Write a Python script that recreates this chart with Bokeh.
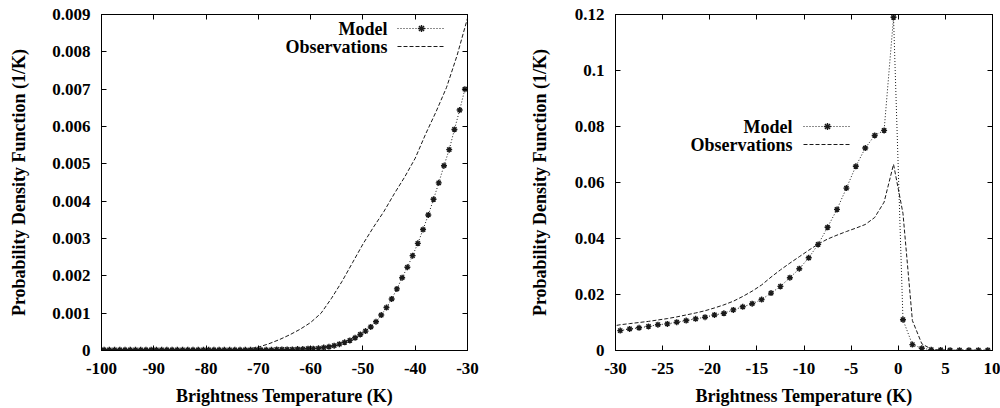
from bokeh.plotting import figure
from bokeh.layouts import row
from bokeh.models import (FixedTicker, LinearAxis, Legend, LegendItem, Label,
                          Range1d, CustomJSTickFormatter)
from bokeh.embed import file_html
from bokeh.resources import INLINE

# ---- Left panel: cold tail of the brightness-temperature distribution ----
left_model_x = [-99.5 + i for i in range(70)]
left_model_pdf = [
    0.00002, 0.00002, 0.00002, 0.00002, 0.00002, 0.00002, 0.00002, 0.00002, 0.00002, 0.00002,
    0.00002, 0.00002, 0.00002, 0.00002, 0.00002, 0.00002, 0.00002, 0.00002, 0.00002, 0.00002,
    0.00002, 0.00002, 0.00002, 0.00002, 0.00002, 0.00002, 0.00002, 0.00002, 0.00002, 0.00002,
    0.00002, 0.00002, 0.00002, 0.00003, 0.00003, 0.00003, 0.00003, 0.00004, 0.00004, 0.00005,
    0.00005, 0.00006, 0.00008, 0.00010, 0.00013, 0.00017, 0.00022, 0.00027, 0.00034, 0.00043,
    0.00052, 0.00063, 0.00077, 0.00095, 0.00115, 0.00138, 0.00165, 0.00195, 0.00223, 0.00254,
    0.00287, 0.00324, 0.00363, 0.00405, 0.00449, 0.00495, 0.00538, 0.00592, 0.00644, 0.00700,
]
left_obs_x = [-100, -98, -96, -94, -92, -90, -88, -86, -84, -82, -80, -78, -76, -74, -72,
              -70, -68, -66, -64, -62, -60, -58, -56, -54, -52, -50, -48, -46, -44, -42,
              -40, -38, -36, -34, -32, -30]
left_obs_pdf = [0, 0, 0, 0, 0, 0, 0, 0, 0, 0, 0, 0, 0, 0.00001, 0.00004,
                0.00009, 0.00018, 0.00029, 0.00042, 0.00057, 0.00075, 0.00100, 0.00140,
                0.00185, 0.00235, 0.00285, 0.00330, 0.00372, 0.00420, 0.00465,
                0.00515, 0.00580, 0.00640, 0.00705, 0.00790, 0.00890]
left_xticks = [-100, -90, -80, -70, -60, -50, -40, -30]
left_yticks = [0, 0.001, 0.002, 0.003, 0.004, 0.005, 0.006, 0.007, 0.008, 0.009]

# ---- Right panel: core of the distribution around 0 K ----
right_model_x = [-29.5 + i for i in range(40)]
right_model_pdf = [
    0.0071, 0.0077, 0.0081, 0.0086, 0.0092, 0.0095, 0.0101, 0.0107, 0.0113, 0.0119,
    0.0127, 0.0133, 0.0145, 0.0156, 0.0167, 0.0182, 0.0205, 0.0229, 0.0260, 0.0292,
    0.0331, 0.0379, 0.0440, 0.0504, 0.0580, 0.0658, 0.0723, 0.0768, 0.0786, 0.1190,
    0.0110, 0.0021, 0.0008, 0.0003, 0.0002, 0.0001, 0.0001, 0.0001, 0.0001, 0.0001,
]
right_obs_x = [-30.5 + i for i in range(41)]
right_obs_pdf = [
    0.0086, 0.0092, 0.0096, 0.0100, 0.0104, 0.0109, 0.0114, 0.0120, 0.0127, 0.0134,
    0.0142, 0.0152, 0.0163, 0.0176, 0.0193, 0.0212, 0.0234, 0.0262, 0.0288, 0.0312,
    0.0335, 0.0358, 0.0380, 0.0398, 0.0412, 0.0425, 0.0437, 0.0450, 0.0475, 0.0530,
    0.0665, 0.0490, 0.0107, 0.0024, 0.0005, 0.0001, 0.0001, 0.0001, 0.0001, 0.0001,
    0.0001,
]
right_xticks = [-30, -25, -20, -15, -10, -5, 0, 5, 10]
right_yticks = [0, 0.02, 0.04, 0.06, 0.08, 0.1, 0.12]

x_title = "Brightness Temperature (K)"
y_title = "Probability Density Function (1/K)"
series_names = ["Model", "Observations"]

FONT = "Liberation Serif, Times New Roman, serif"
TICK_FS = "17px"
TITLE_FS = "18px"
INK = "#1a1a1a"

fmt = CustomJSTickFormatter(code="return String(parseFloat(tick.toFixed(4)));")


def make_panel(xr, yr, xticks, yticks, mx, my, ox, oy, border_left, border_right,
               frame_w, ytitle_standoff, legend_loc, label_x, label_y):
    p = figure(frame_width=frame_w, frame_height=336,
               x_range=Range1d(*xr), y_range=Range1d(*yr),
               output_backend="svg", toolbar_location=None,
               min_border_left=border_left, min_border_right=border_right,
               min_border_top=14, min_border_bottom=58,
               background_fill_color="white", border_fill_color="white")
    p.grid.visible = False
    p.outline_line_color = "black"
    p.outline_line_width = 1

    for ax in (p.xaxis[0], p.yaxis[0]):
        ax.formatter = fmt
        ax.major_tick_in = 5
        ax.major_tick_out = 0
        ax.minor_tick_line_color = None
        ax.axis_line_color = "black"
        ax.major_tick_line_color = "black"
        ax.major_label_text_font = FONT
        ax.major_label_text_font_style = "bold"
        ax.major_label_text_font_size = TICK_FS
        ax.major_label_text_color = "black"
        ax.axis_label_text_font = FONT
        ax.axis_label_text_font_style = "bold"
        ax.axis_label_text_font_size = TITLE_FS
        ax.axis_label_text_color = "black"
    p.xaxis[0].ticker = FixedTicker(ticks=xticks)
    p.yaxis[0].ticker = FixedTicker(ticks=yticks)
    p.xaxis[0].axis_label = x_title
    p.yaxis[0].axis_label = y_title
    p.xaxis[0].major_label_standoff = 12
    p.xaxis[0].axis_label_standoff = 9
    p.yaxis[0].major_label_standoff = 11
    p.yaxis[0].axis_label_standoff = ytitle_standoff

    # mirrored tick marks on the top and right edges (no labels)
    for ticks, side in ((xticks, "above"), (yticks, "right")):
        mirror = LinearAxis(ticker=FixedTicker(ticks=ticks), major_tick_in=5,
                            major_tick_out=0, minor_tick_line_color=None,
                            major_label_text_font_size="1px",
                            major_label_text_color=None, major_label_standoff=0,
                            axis_line_color="black", major_tick_line_color="black")
        p.add_layout(mirror, side)

    m_line = p.line(mx, my, line_color=INK, line_width=1, line_dash="1 2")
    m_pts = p.scatter(mx, my, marker="asterisk", size=6, line_color=INK, line_width=1.4)
    o_line = p.line(ox, oy, line_color=INK, line_width=1, line_dash="4 2")

    leg = Legend(items=[LegendItem(label=" ", renderers=[m_line, m_pts]),
                        LegendItem(label=" ", renderers=[o_line])],
                 location=legend_loc, orientation="vertical",
                 glyph_width=48, glyph_height=18, label_width=0, label_height=18,
                 label_standoff=0, padding=0, margin=0, spacing=0,
                 border_line_alpha=0, background_fill_alpha=0,
                 label_text_font_size="10px", label_text_color=None)
    p.add_layout(leg)

    for name, ly in zip(series_names, label_y):
        p.add_layout(Label(x=label_x, y=ly, x_units="screen", y_units="screen",
                           text=name, text_align="right", text_baseline="middle",
                           text_font=FONT, text_font_style="bold",
                           text_font_size=TITLE_FS, text_color="black"))
    return p


p1 = make_panel((-100, -30), (0, 0.009), left_xticks, left_yticks,
                left_model_x, left_model_pdf, left_obs_x, left_obs_pdf,
                101, 33, 366, 20, (296, 295), 286, (322, 304))
p2 = make_panel((-30, 10), (0, 0.12), right_xticks, right_yticks,
                right_model_x, right_model_pdf, right_obs_x, right_obs_pdf,
                115, 8, 377, 22, (188, 197), 177, (224, 206))

layout = row(p1, p2, spacing=0)
open("out.html", "w").write(file_html(layout, INLINE))
